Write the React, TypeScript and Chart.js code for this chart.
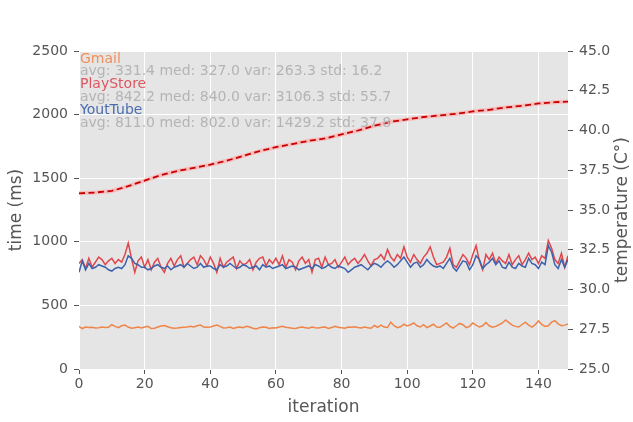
import { useEffect, useRef } from "react"
import { Chart, registerables } from "chart.js"

Chart.register(...registerables)

const gmail = [
  335, 318, 330, 326, 328, 322, 325, 330, 327, 329, 348, 335, 325, 340, 345, 330, 320, 325, 330, 322,
  330, 335, 318, 320, 330, 338, 342, 332, 325, 320, 322, 326, 328, 330, 335, 330, 340, 345, 330, 328,
  330, 338, 345, 335, 322, 325, 330, 318, 326, 330, 325, 335, 330, 320, 315, 325, 330, 328, 318, 325,
  322, 330, 335, 328, 325, 320, 318, 326, 330, 325, 320, 330, 325, 322, 328, 330, 318, 326, 335, 328,
  325, 320, 330, 328, 332, 326, 322, 330, 325, 320, 342, 328, 345, 330, 326, 368, 340, 325, 332, 352,
  338, 348, 362, 340, 330, 348, 325, 338, 352, 330, 328, 345, 362, 335, 322, 340, 358, 348, 325, 335,
  362, 345, 330, 340, 365, 340, 328, 335, 348, 362, 385, 365, 345, 335, 330, 350, 368, 345, 330, 348,
  378, 350, 335, 340, 368, 380, 355, 340, 345, 355
]

const playStore = [
  830, 860, 790, 870, 800, 840, 880, 860, 820, 850, 870, 830, 860, 840, 900, 990, 870, 760, 850, 880,
  800, 860, 780, 840, 870, 800, 760, 830, 870, 810, 860, 890, 800, 830, 860, 880, 820, 890, 860, 810,
  880, 830, 760, 870, 800, 840, 860, 880, 790, 850, 820, 830, 860, 780, 840, 870, 880, 810, 860, 830,
  870, 820, 890, 800, 860, 840, 780, 850, 880, 830, 860, 760, 860, 870, 800, 880, 820, 830, 860, 800,
  840, 880, 820, 850, 870, 830, 860, 900, 850, 810, 860, 870, 900, 860, 940, 880, 850, 900, 870, 960,
  880, 840, 900, 860, 830, 880, 910, 960, 880, 820, 830, 840, 880, 950, 820, 800, 850, 900, 870, 820,
  900, 970, 850, 780, 900, 860, 910, 830, 880, 850, 830, 900, 820, 860, 890, 820, 860, 910, 860, 880,
  830, 890, 870, 1010, 950, 860, 830, 910, 800, 890
]

const youTube = [
  760, 850, 780, 830, 790, 800, 820, 810, 800, 780, 770, 790, 800, 790, 820, 890, 870, 830, 820, 800,
  800, 780, 790, 810, 820, 800, 790, 810, 780, 800, 810, 820, 800, 830, 810, 790, 800, 830, 800, 810,
  810, 790, 780, 820, 800, 810, 830, 810, 790, 800, 820, 810, 790, 800, 810, 780, 820, 800, 810, 790,
  800, 810, 820, 790, 800, 810, 800, 780, 790, 800, 810, 790, 820, 810, 790, 800, 820, 800, 790, 810,
  800, 790, 760, 780, 800, 810, 820, 800, 780, 810, 830, 820, 800, 830, 850, 830, 800, 820, 850, 880,
  840, 800, 830, 840, 800, 820, 860, 830, 810, 800, 810, 790, 830, 870, 800, 770, 810, 850, 840, 780,
  820, 890, 860, 790, 820, 840, 870, 820, 850, 800, 790, 840, 800, 790, 830, 810, 800, 870, 830, 820,
  790, 840, 820, 970, 920, 820, 790, 860, 800, 860
]

const tempIters = [0, 5, 10, 15, 20, 25, 30, 35, 40, 45, 50, 55, 60, 65, 70, 75, 80, 85, 90, 95, 100, 105, 110, 115, 120, 125, 130, 135, 140, 145, 149]
const temperature = [
  36.05, 36.1, 36.2, 36.5, 36.85, 37.2, 37.45, 37.65, 37.85, 38.1, 38.4, 38.7, 38.95, 39.15, 39.35, 39.5,
  39.75, 40.0, 40.3, 40.55, 40.7, 40.85, 40.95, 41.05, 41.2, 41.3, 41.45, 41.55, 41.7, 41.78, 41.82
]

const legendLines = [
  { text: "Gmail", color: "rgba(240,130,70,0.85)" },
  { text: "avg: 331.4 med: 327.0 var: 263.3 std: 16.2", color: "#b4b4b4" },
  { text: "PlayStore", color: "rgba(220,60,70,0.85)" },
  { text: "avg: 842.2 med: 840.0 var: 3106.3 std: 55.7", color: "#b4b4b4" },
  { text: "YoutTube", color: "rgba(55,95,170,0.9)" },
  { text: "avg: 811.0 med: 802.0 var: 1429.2 std: 37.8", color: "#b4b4b4" }
]

const font = "'DejaVu Sans', sans-serif"

const series = (values: number[]) => values.map((v, i) => ({ x: i, y: v }))

const overlay = {
  id: "overlay",
  beforeDraw(chart: any) {
    const { ctx, chartArea: a } = chart
    ctx.save()
    ctx.fillStyle = "#ffffff"
    ctx.fillRect(0, 0, chart.width, chart.height)
    ctx.fillStyle = "#e5e5e5"
    ctx.fillRect(a.left, a.top, a.right - a.left, a.bottom - a.top)
    ctx.restore()
  },
  afterDraw(chart: any) {
    const { ctx, chartArea: a } = chart
    ctx.save()
    ctx.font = `14px ${font}`
    ctx.textBaseline = "alphabetic"
    legendLines.forEach((l, i) => {
      ctx.fillStyle = l.color
      ctx.fillText(l.text, a.left + 1, a.top + 11.5 + i * 12.8)
    })
    ctx.fillStyle = "#555555"
    ctx.font = `17px ${font}`
    ctx.textAlign = "center"
    ctx.textBaseline = "middle"
    ctx.fillText("iteration", (a.left + a.right) / 2, 408)
    const midY = (a.top + a.bottom) / 2
    ctx.translate(17, midY)
    ctx.rotate(-Math.PI / 2)
    ctx.fillText("time (ms)", 0, 0)
    ctx.setTransform(1, 0, 0, 1, 0, 0)
    ctx.scale(chart.currentDevicePixelRatio, chart.currentDevicePixelRatio)
    ctx.translate(623, midY)
    ctx.rotate(-Math.PI / 2)
    ctx.fillText("temperature (C°)", 0, 0)
    ctx.restore()
  }
}

const tickFont = { family: font, size: 14 }

export default function App() {
  const canvasRef = useRef<HTMLCanvasElement>(null)

  useEffect(() => {
    if (!canvasRef.current) return
    const tempData = tempIters.map((it, i) => ({ x: it, y: temperature[i] }))
    const chart = new Chart(canvasRef.current, {
      type: "line",
      data: {
        datasets: [
          {
            label: "temperature",
            data: tempData,
            yAxisID: "y1",
            borderColor: "#c40000",
            borderWidth: 1.8,
            borderDash: [6, 3.5],
            pointRadius: 0,
            order: 0
          },
          {
            label: "temperature band",
            data: tempData,
            yAxisID: "y1",
            borderColor: "rgba(255,175,175,0.75)",
            borderWidth: 4,
            pointRadius: 0,
            order: 1
          },
          {
            label: "YoutTube",
            data: series(youTube),
            yAxisID: "y",
            borderColor: "#3b62ad",
            borderWidth: 1.5,
            pointRadius: 0,
            order: 2
          },
          {
            label: "PlayStore",
            data: series(playStore),
            yAxisID: "y",
            borderColor: "#e0474c",
            borderWidth: 1.5,
            pointRadius: 0,
            order: 3
          },
          {
            label: "Gmail",
            data: series(gmail),
            yAxisID: "y",
            borderColor: "#ef8548",
            borderWidth: 1.5,
            pointRadius: 0,
            order: 4
          }
        ]
      },
      options: {
        animation: false,
        responsive: true,
        maintainAspectRatio: false,
        layout: { padding: { top: 51, left: 0, right: 0, bottom: 0 } },
        plugins: { legend: { display: false }, tooltip: { enabled: false } },
        scales: {
          x: {
            type: "linear",
            min: 0,
            max: 149,
            border: { display: false },
            grid: { color: "#ffffff", lineWidth: 1, tickColor: "#555555", tickLength: 5 },
            ticks: {
              stepSize: 20,
              includeBounds: false,
              color: "#555555",
              font: tickFont,
              padding: 2,
              callback: (v: any) => String(v)
            },
            afterFit: (s: any) => { s.height = 53 }
          },
          y: {
            position: "left",
            min: 0,
            max: 2500,
            border: { display: false },
            grid: { color: "#ffffff", lineWidth: 1, tickColor: "#555555", tickLength: 5 },
            ticks: {
              stepSize: 500,
              color: "#555555",
              font: tickFont,
              padding: 6,
              callback: (v: any) => String(v)
            },
            afterFit: (s: any) => { s.width = 79 }
          },
          y1: {
            position: "right",
            min: 25,
            max: 45,
            border: { display: false },
            grid: { drawOnChartArea: false, tickColor: "#555555", tickLength: 5 },
            ticks: {
              stepSize: 2.5,
              color: "#555555",
              font: tickFont,
              padding: 6,
              callback: (v: any) => Number(v).toFixed(1)
            },
            afterFit: (s: any) => { s.width = 65 }
          }
        }
      },
      plugins: [overlay]
    })
    return () => chart.destroy()
  }, [])

  return (
    <div style={{ position: "fixed", left: 0, top: 0, width: 633, height: 422 }}>
      <canvas ref={canvasRef}></canvas>
    </div>
  )
}
